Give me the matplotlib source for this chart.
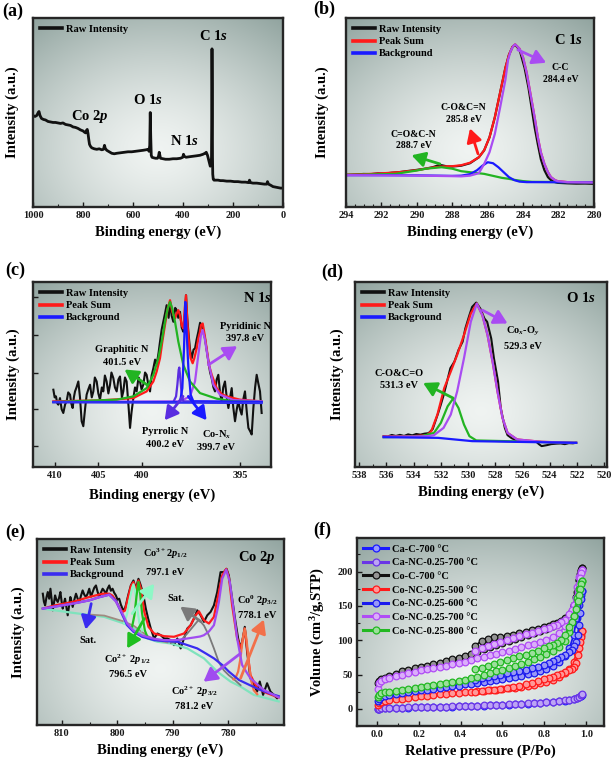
import numpy as np
import matplotlib
matplotlib.use('Agg')
import matplotlib.pyplot as plt
from matplotlib.ticker import MultipleLocator
from matplotlib.lines import Line2D

plt.rcParams.update({
    'font.family': ['Liberation Serif', 'DejaVu Serif'],
    'font.weight': 'bold',
    'axes.labelweight': 'bold',
    'mathtext.fontset': 'custom',
    'mathtext.rm': 'Liberation Serif:bold',
    'mathtext.it': 'Liberation Serif:italic:bold',
    'mathtext.bf': 'Liberation Serif:bold',
})

# ---------------- DATA ----------------
# (a) survey spectrum: binding energy (eV), intensity (a.u.)
survey = np.array([
    [1000, 92], [992, 91], [985, 92], [979, 95], [976, 96], [972, 92], [966, 89], [958, 88], [950, 87.5],
    [940, 86], [930, 85.5], [920, 85], [910, 85], [900, 84.5], [890, 84], [880, 84.5], [870, 83], [860, 82.5],
    [850, 82], [840, 80.5], [830, 80], [820, 79], [810, 77.5], [800, 76.5], [793, 75], [789, 74.5], [786, 77],
    [783, 78], [780, 74], [777, 68], [774, 63], [770, 61], [765, 59.5], [755, 58.5], [745, 58], [735, 58.5],
    [725, 57.5], [718, 58], [714, 62], [711, 59], [705, 57], [695, 55.5], [685, 54], [675, 53.5], [665, 54],
    [650, 54.5], [635, 55], [620, 55.5], [605, 55.5], [590, 56], [575, 56.5], [560, 57], [548, 57.5], [540, 58],
    [536, 56], [533, 62], [531, 95], [529, 70], [527, 52], [524, 50], [518, 49.5], [510, 49], [502, 49],
    [498, 51], [495, 55], [490, 49], [480, 48.5], [470, 48], [455, 48], [440, 48.5], [425, 48.5], [410, 49],
    [401, 50], [398, 53], [395, 51], [388, 50], [375, 50.5], [360, 51], [345, 51.5], [332, 52], [320, 53],
    [312, 54], [307, 55], [302, 52], [298, 48], [294, 44], [291, 41], [288, 42], [286, 50], [285, 90],
    [284, 159], [283, 120], [282, 50], [281, 33], [279, 28], [276, 27], [270, 27], [260, 27], [250, 26.5],
    [240, 26.5], [225, 26], [210, 26], [195, 25.5], [180, 25.5], [165, 25], [150, 25], [138, 24.5], [134, 27],
    [130, 24.5], [120, 24], [105, 24], [90, 23.5], [75, 23], [65, 23], [62, 25.5], [58, 23], [50, 22],
    [40, 20.5], [30, 20], [20, 19.5], [10, 19], [0, 19]])

# (b) C 1s
b_raw = np.array([
    [294, 32.3], [293.5, 32.6], [293, 33.2], [292.6, 33.0], [292.2, 33.8], [291.8, 33.6], [291.4, 34.5],
    [291, 35], [290.5, 36.2], [290, 37.3], [289.5, 38.6], [289.1, 40], [288.8, 41.8], [288.6, 42],
    [288.3, 40.8], [288, 40.7], [287.5, 41.5], [287, 44], [286.5, 50], [286.2, 57], [285.9, 70], [285.6, 90],
    [285.3, 115], [285.0, 140], [284.8, 153], [284.6, 161], [284.45, 163], [284.2, 158], [283.92, 140],
    [283.7, 120], [283.55, 103], [283.35, 80], [283.17, 63], [283.0, 48], [282.8, 37], [282.6, 30],
    [282.43, 27], [282.2, 25], [282.05, 24.3], [281.5, 23.8], [281, 23.5], [280.5, 23.6], [280, 23.3]])
b_sum = np.array([
    [294, 32.3], [293, 33], [292, 33.8], [291, 35], [290, 37], [289.5, 38.5], [289, 40], [288.5, 40.8],
    [288, 41], [287.5, 42], [287, 44.5], [286.5, 50], [286.2, 57], [285.9, 70], [285.6, 90], [285.3, 115],
    [285.0, 140], [284.8, 153], [284.6, 161], [284.45, 163.5], [284.2, 159], [284.0, 150], [283.8, 135],
    [283.55, 110], [283.35, 90], [283.17, 70], [283.0, 55], [282.8, 43.3], [282.6, 35], [282.43, 30],
    [282.2, 27], [282.05, 26], [281.5, 25], [280, 24.7]])
b_cc = np.array([
    [294, 32], [291, 31.7], [289, 31.3], [288, 31], [287.5, 30.8], [287, 31.5], [286.5, 34], [286.2, 43.3],
    [285.9, 55], [285.6, 73.3], [285.3, 100], [285.0, 128], [284.85, 148], [284.7, 157], [284.55, 162],
    [284.45, 163.5], [284.2, 159], [284.0, 150], [283.8, 135], [283.55, 110], [283.35, 90], [283.17, 70],
    [283.0, 55], [282.8, 43.3], [282.6, 35], [282.43, 30], [282.2, 27], [282.05, 26], [281.5, 25], [280, 24.7]])
b_co = np.array([
    [294, 32], [292, 32], [290, 31.8], [288, 31.3], [287.5, 31.5], [287, 33], [286.6, 37], [286.3, 41.5],
    [286.0, 45], [285.7, 44], [285.4, 40], [285.1, 35], [284.8, 30], [284.5, 27], [284.2, 25.5], [283.8, 25],
    [280, 24.8]])
b_cn = np.array([
    [294, 32.2], [291.2, 33.3], [290, 36.7], [289.5, 38.5], [288.6, 40], [288.0, 38.5], [287.5, 36],
    [286.2, 33.3], [285.2, 29.3], [284.8, 28.3], [284.5, 27.3], [284.0, 26], [283.5, 25.3], [280, 24.8]])

# (c) N 1s
c_raw = np.array([
    [410.15, 77.7], [410.0, 70], [409.85, 71], [409.7, 64], [409.58, 62.7], [409.39, 69.3], [409.2, 58],
    [409.01, 54.3], [408.8, 63], [408.63, 66], [408.45, 75], [408.24, 72.7], [408.1, 64], [407.94, 59.3],
    [407.8, 70], [407.67, 76], [407.5, 80], [407.29, 86], [407.1, 70], [406.91, 46], [406.72, 41],
    [406.5, 60], [406.34, 72.7], [406.15, 78], [405.95, 82.7], [405.75, 70], [405.57, 76], [405.4, 90],
    [405.19, 86], [405.0, 74], [404.81, 67.7], [404.6, 80], [404.43, 76], [404.25, 92], [404.05, 86],
    [403.85, 74], [403.66, 82.7], [403.5, 95], [403.28, 89.3], [403.1, 80], [402.90, 76], [402.7, 88],
    [402.52, 91], [402.3, 70], [402.14, 76], [401.95, 90], [401.76, 86], [401.55, 62], [401.37, 39.3],
    [401.2, 55], [400.99, 69.3], [400.8, 80], [400.61, 76], [400.4, 90], [400.23, 86], [400.05, 78],
    [399.85, 82.7], [399.65, 95], [399.47, 92.7], [399.3, 84], [399.08, 76], [398.9, 92], [398.70, 99.3],
    [398.5, 108], [398.32, 102.7], [398.1, 115], [397.94, 126], [397.75, 138], [397.56, 146], [397.35, 155],
    [397.18, 162.7], [396.95, 150], [396.79, 166], [396.6, 152], [396.41, 146], [396.2, 160], [396.03, 157.7],
    [395.85, 150], [395.65, 156], [395.45, 140], [395.27, 136], [395.1, 150], [394.96, 172.7], [394.82, 150],
    [394.69, 136], [394.5, 118], [394.31, 109.3], [394.1, 118], [393.93, 119.3], [393.75, 128], [393.55, 136],
    [393.35, 145], [393.17, 142.7], [392.98, 136], [392.79, 129.3], [392.6, 118], [392.40, 106],
    [392.2, 95], [392.02, 89.3], [391.82, 80], [391.64, 76], [391.45, 88], [391.26, 92.7], [391.07, 75],
    [390.88, 66], [390.7, 80], [390.50, 86], [390.3, 70], [390.11, 59.3], [389.9, 70], [389.73, 79.3],
    [389.55, 60], [389.35, 46], [389.15, 58], [388.97, 66], [388.78, 58], [388.59, 52.7], [388.4, 68],
    [388.21, 76], [388.0, 55], [387.82, 39.3], [387.62, 36], [387.44, 32.7], [387.25, 59.3], [387.05, 80],
    [386.87, 92.7], [386.68, 84], [386.49, 76], [386.30, 54.3]])
c_sum = np.array([
    [410.15, 66], [404.81, 67], [402.90, 68], [400.99, 69.3], [400.23, 72.7], [399.47, 76], [398.70, 86],
    [398.32, 96], [397.94, 109.3], [397.67, 126], [397.37, 142.7], [397.10, 157.7], [396.79, 167.7],
    [396.53, 156], [396.22, 149.3], [396.03, 154.3], [395.84, 157.7], [395.65, 152.7], [395.46, 142.7],
    [395.27, 139.3], [395.11, 159.3], [394.96, 172.7], [394.81, 146], [394.58, 119.3], [394.43, 109.3],
    [394.20, 104.3], [394.01, 109.3], [393.74, 119.3], [393.55, 129.3], [393.36, 136], [393.25, 142.7],
    [393.05, 144.3], [392.82, 132.7], [392.60, 119.3], [392.33, 102.7], [392.02, 92.7], [391.45, 79.3],
    [390.88, 73.3], [390.31, 71], [388.78, 67.7], [386.30, 66]])
c_graphitic = np.array([
    [410.15, 65.3], [402.90, 67.7], [400.99, 71], [399.47, 79.3], [398.70, 92.7], [398.13, 109.3],
    [397.75, 126], [397.37, 146], [397.06, 159.3], [396.79, 166], [396.53, 159.3], [396.22, 146],
    [395.84, 126], [395.27, 102.7], [394.50, 86], [393.36, 74.3], [391.45, 68.7], [389.54, 66], [386.30, 65.3]])
c_pyrrolic = np.array([
    [410.15, 65.3], [396.41, 65.3], [396.10, 71], [395.95, 82.7], [395.80, 97.7], [395.73, 100],
    [395.61, 89.3], [395.46, 72.7], [395.27, 66], [386.30, 65.3]])
c_conx = np.array([
    [410.15, 65.3], [395.65, 65.3], [395.38, 79.3], [395.19, 119.3], [395.04, 166], [394.89, 136],
    [394.69, 99.3], [394.43, 72.7], [394.12, 66], [386.30, 65.3]])
c_pyridinic = np.array([
    [410.15, 65.3], [395.65, 66], [394.50, 71], [393.93, 86], [393.55, 112.7], [393.25, 132.7],
    [393.05, 137.7], [392.79, 127.7], [392.40, 106], [391.83, 82.7], [391.07, 72.7], [389.54, 67.3],
    [386.30, 66]])
c_bg = np.array([[410.15, 65.3], [386.30, 64.3]])
c_tick_pos = [410, 405, 400, 388.8]
c_tick_lab = ['410', '405', '400', '395']

# (d) O 1s
d_raw = np.array([
    [536.2, 31], [535.9, 30.7], [535.6, 32.2], [535.3, 31.2], [535.0, 32.3], [534.7, 31.2], [534.4, 32.8],
    [534.1, 31.8], [533.8, 33.2], [533.5, 32.5], [533.2, 33.5], [532.9, 34], [532.6, 38], [532.4, 46],
    [532.2, 54], [532.0, 62.7], [531.8, 72], [531.6, 82.7], [531.3, 99.3], [531.0, 106], [530.7, 117.7],
    [530.4, 126], [530.2, 139.3], [529.9, 152.7], [529.7, 161], [529.4, 165.3], [529.1, 159.3],
    [528.8, 149.3], [528.6, 146], [528.3, 129.3], [528.1, 109.3], [527.8, 86], [527.6, 59.3], [527.3, 39.3],
    [527.1, 32], [526.8, 29], [526.6, 27.7], [526.1, 26.8], [525.6, 26], [525.0, 25.5], [524.8, 23],
    [524.6, 21], [524.4, 21.5], [524.2, 22], [523.9, 23], [523.5, 23.5], [523.2, 23.7], [522.9, 23],
    [522.6, 24], [522.3, 23.8], [522.1, 24.3]])
d_sum = np.array([
    [536.2, 30.5], [534, 31], [533, 32], [532.7, 36], [532.25, 52.7], [531.75, 79.3], [531.27, 96],
    [530.8, 112.7], [530.3, 132.7], [529.8, 154.3], [529.36, 164.3], [528.95, 152.7], [528.57, 132.7],
    [528.2, 106], [527.84, 76], [527.47, 49.3], [527.1, 34.3], [526.4, 27.7], [524.6, 25.3], [522.06, 24.3]])
d_coxoy = np.array([
    [536.2, 30.5], [534, 30.6], [533, 31], [532.5, 32], [531.8, 39.3], [531.27, 52.7], [530.8, 76],
    [530.3, 109.3], [529.8, 146], [529.36, 164.3], [528.95, 152.7], [528.57, 132.7], [528.2, 106],
    [527.84, 76], [527.47, 49.3], [527.1, 34.3], [526.4, 27.7], [524.6, 25.3], [522.06, 24.3]])
d_co = np.array([
    [536.2, 30], [533.5, 30.7], [532.5, 34.3], [532.0, 44.3], [531.5, 61], [531.1, 68.7], [530.7, 59.3],
    [530.3, 42.7], [529.9, 31], [529.4, 26.7], [522.06, 24.3]])
d_bg = np.array([[536.2, 30], [532.2, 29.3], [529.7, 26], [522.06, 24.3]])

# (e) Co 2p
e_raw = np.array([
    [813.45, 132], [813.25, 124], [813.03, 120.3], [812.8, 128], [812.55, 133.7], [812.3, 127], [812.07, 137],
    [811.85, 126], [811.65, 115.3], [811.45, 122], [811.23, 130.3], [811.0, 126], [810.75, 123.7],
    [810.5, 128], [810.27, 133.7], [810.05, 124], [809.85, 117], [809.65, 122], [809.43, 127], [809.2, 119],
    [808.95, 110.3], [808.7, 120], [808.47, 128.7], [808.25, 124], [808.05, 118.7], [807.75, 126],
    [807.45, 132], [807.15, 127], [806.85, 123.7], [806.55, 130], [806.25, 135.3], [805.95, 131],
    [805.65, 128.7], [805.35, 132], [805.05, 137], [804.75, 129], [804.44, 133.7], [804.15, 138],
    [803.84, 140.3], [803.55, 134], [803.24, 128.7], [802.95, 133], [802.64, 137], [802.35, 135],
    [802.04, 132], [801.75, 137], [801.44, 140.3], [801.15, 135], [800.84, 137], [800.55, 133],
    [800.24, 130.3], [799.94, 126], [799.64, 127], [799.34, 121], [799.04, 117], [798.74, 115], [798.44, 120.3],
    [798.02, 130.3], [797.54, 140.3], [797.06, 145.3], [796.64, 137], [796.16, 147], [795.74, 140.3],
    [795.26, 130.3], [794.83, 117], [794.41, 107], [793.93, 97], [793.33, 87], [792.73, 92], [792.13, 90.3],
    [791.53, 87], [790.93, 87], [790.33, 85.3], [789.73, 80.3], [789.13, 87], [788.53, 77], [787.93, 87],
    [787.33, 97], [786.73, 100.3], [786.13, 107], [785.53, 115.3], [784.92, 110.3], [784.32, 103.7],
    [783.72, 110.3], [783.12, 113.7], [782.52, 120.3], [781.92, 133.7], [781.32, 153.7], [780.72, 153.7],
    [780.24, 157], [779.82, 150.3], [779.22, 127], [778.62, 103.7], [778.14, 87], [777.72, 77], [777.30, 87],
    [776.94, 98.7], [776.52, 73.7], [775.92, 47], [775.32, 40.3], [774.71, 33.7], [774.23, 43.7],
    [773.63, 30.3], [772.91, 42], [772.31, 33.7], [771.71, 30.3], [771.11, 27]])
e_sum = np.array([
    [813.45, 117], [811.23, 120.3], [808.05, 123.7], [805.05, 128.7], [802.64, 132], [801.44, 132],
    [800.84, 130], [800.24, 125], [799.64, 118], [799.04, 113.7], [798.6, 115], [798.02, 128.7],
    [797.5, 140], [797.06, 143.7], [796.64, 135.3], [796.16, 145.3], [795.7, 137], [795.1, 113.7],
    [794.35, 98.7], [793.33, 92], [791.53, 89.3], [789.73, 88.7], [787.93, 92], [786.73, 100.3],
    [785.83, 110.3], [785.23, 114.3], [784.32, 105.3], [783.42, 102], [782.52, 108.7], [781.62, 133.7],
    [781.02, 150.3], [780.3, 157], [779.82, 148.7], [779.22, 120.3], [778.32, 87], [777.6, 77],
    [776.94, 97], [776.52, 77], [775.92, 50.3], [774.71, 37], [772.91, 32], [770.81, 27.7]])
e_bg = np.array([
    [813.45, 117], [810.75, 119.5], [808.05, 122], [805.05, 125.3], [803.24, 128.5], [801.44, 131],
    [800.24, 125], [799.04, 110.3], [798.2, 100.3], [797.06, 93.7], [795.5, 88.7], [793.33, 85.3],
    [790.93, 84.3], [789.13, 83.7], [787.3, 80.3], [785.53, 77], [784.0, 72], [782.52, 67], [781.0, 60.3],
    [779.82, 53.7], [778.0, 45.3], [776.0, 40], [774.0, 35], [772.0, 31], [770.81, 29]])
e_co2p32 = np.array([
    [813.45, 117], [810.75, 119.5], [808.05, 122], [805.05, 125.3], [803.24, 128.5], [801.44, 131],
    [800.24, 124], [799.04, 112], [798.2, 102], [797.06, 95], [795.5, 90], [793.33, 86.7], [791.5, 85.3],
    [789.73, 85.3], [788.5, 86], [787.3, 87], [786.1, 88], [785.0, 89], [784.32, 90.3], [783.42, 94],
    [782.52, 100.3], [781.92, 115], [781.62, 123.7], [781.02, 147], [780.3, 156.3], [779.64, 143.7],
    [778.92, 113.7], [778.32, 87], [777.42, 60.3], [776.5, 52], [775.92, 47], [773.51, 35.3], [770.81, 27.7]])
e_shirley = np.array([
    [813.45, 117], [808.35, 113], [802.34, 108.7], [798.74, 102], [796.94, 97], [794.53, 87],
    [792.73, 83.7], [790.33, 82], [787.33, 77], [784.32, 67], [781.92, 53.7], [779.52, 43.7],
    [777.72, 38.7], [775.32, 30.3], [770.81, 23.7]])
e_sat2 = np.array([[805.0, 111], [802.34, 110], [798.74, 104], [796.94, 99.5], [794.53, 89.5],
                   [792.73, 85], [790.9, 83]])
e_sat1 = np.array([
    [790.33, 82.5], [788.5, 85], [787.33, 92], [786.13, 100], [785.23, 106], [784.32, 100], [783.42, 90],
    [782.52, 77], [781.62, 63], [780.72, 55], [779.82, 50], [778.9, 46], [777.7, 40]])
e_co3 = np.array([[798.74, 102], [798.2, 112], [797.8, 125], [797.3, 138], [797.06, 141.5], [796.8, 136],
                  [796.4, 118], [796.0, 103], [795.5, 95]])
e_co2p12 = np.array([[797.3, 99], [796.9, 110], [796.5, 130], [796.16, 143.7], [795.85, 132],
                     [795.5, 112], [795.0, 95], [794.5, 88]])
e_co0 = np.array([[779.0, 46], [778.6, 47.5], [778.14, 53.7], [777.72, 67], [777.3, 87], [776.94, 97],
                  [776.6, 85], [776.2, 62], [775.8, 45], [775.32, 35], [774.7, 31]])
e_ticks = [810, 800, 790, 780]

# (f) N2 isotherms: relative pressure and volume (cm3/g, STP)
p_ads = [0.003, 0.01, 0.02, 0.04, 0.06, 0.09, 0.12, 0.15, 0.18, 0.21, 0.24, 0.27, 0.30, 0.33, 0.36, 0.39,
         0.42, 0.45, 0.48, 0.51, 0.54, 0.57, 0.60, 0.63, 0.66, 0.69, 0.72, 0.75, 0.78, 0.81, 0.84, 0.87,
         0.90, 0.92, 0.94, 0.955, 0.965, 0.975, 0.98]
p_des = [0.98, 0.975, 0.97, 0.965, 0.96, 0.95, 0.94, 0.93, 0.92, 0.90, 0.88, 0.86, 0.84, 0.82, 0.80,
         0.77, 0.74, 0.71, 0.68, 0.65, 0.62, 0.59, 0.56, 0.53, 0.50, 0.47]
v_cac700 = [0, 0.3, 0.7, 1.0, 1.2, 1.4, 1.6, 1.8, 2.0, 2.2, 2.4, 2.6, 2.8, 3.0, 3.3, 3.6, 3.9, 4.2, 4.5,
            4.8, 5.1, 5.4, 5.7, 6.1, 6.5, 7.0, 7.5, 8.0, 8.6, 9.3, 10.0, 10.9, 11.9, 12.9, 14.2, 15.7,
            17.2, 19.2, 20.7]
v_canc700 = [0, 0.5, 1, 1.3, 1.5, 1.7, 1.9, 2.1, 2.3, 2.5, 2.7, 2.9, 3.1, 3.3, 3.6, 3.9, 4.2, 4.5, 4.8,
             5.1, 5.4, 5.7, 6, 6.4, 6.8, 7.3, 7.8, 8.3, 8.9, 9.6, 10.3, 11.2, 12.2, 13.2, 14.5, 16, 17.5,
             19.5, 21]
v_coc700_ads = [38, 41, 43, 45.5, 48.5, 51.5, 54.5, 57, 59, 61, 62.8, 65, 67.5, 69.8, 72, 74.5, 77, 80, 83,
                86.5, 89.5, 92.5, 95.5, 98.5, 101.5, 104.5, 107.5, 110.5, 113.5, 117, 120.5, 124.5, 130,
                137, 150, 170, 188, 201, 205]
v_coc700_des = [205, 202, 197, 188, 178, 163, 152, 143, 137.5, 132, 128, 125, 123, 121, 119, 117, 114.5,
                112, 110, 108, 106, 105, 104, 102, 99, 92]
v_500_ads = [5, 8, 10, 11.5, 12.5, 13.8, 15, 16.2, 17.3, 18.2, 19, 20, 21, 21.7, 22.4, 23.2, 24, 24.7, 25.5,
             26.3, 27.2, 28.1, 29.1, 30, 30.8, 31.7, 33, 35, 37, 39.5, 42.5, 46, 52, 58, 69, 82, 95, 107, 113]
v_500_des = [113, 105, 97, 88, 78, 67, 61, 58, 56, 53, 51, 49, 47, 45, 43, 40.5, 38, 35.5, 33.5, 32, 30.7,
             29.3, 28, 27, 26, 25]
v_600_ads = [12, 15, 17.5, 19, 20, 21.3, 22.8, 24.3, 25.8, 27, 28, 29.3, 30.6, 31.7, 32.8, 34, 35.5, 36.5,
             37.8, 39.2, 40.5, 41.9, 43.3, 44.9, 46.5, 48.3, 50.3, 52.5, 55, 58.5, 62.5, 68, 77, 88, 108,
             132, 152, 166, 172]
v_600_des = [172, 160, 140, 122, 108, 98, 91, 86, 82.5, 79, 76, 72, 69.5, 67, 64, 61, 59, 57, 55.5, 53.5,
             51.7, 50, 48, 46.5, 44.5, 42.5]
v_700_ads = [29, 37, 41, 43.5, 45, 47.5, 50, 52.2, 54.2, 56, 57.5, 59.3, 61.3, 63, 64.8, 66.7, 69, 71.7,
             74, 76.2, 78.5, 80.5, 82.8, 85, 87.5, 90, 92.5, 95, 98, 101, 104.5, 110, 121, 134, 152, 178,
             192, 200, 203]
v_700_des = [203, 198, 190, 182, 173, 162, 152, 144, 138, 130, 126, 122.5, 120.5, 118.5, 116.5, 114, 111,
             108.5, 106, 103, 100.5, 97.5, 95, 92, 88.5, 84.5]
v_800_ads = [17, 20, 22.5, 24, 25, 26.5, 27.8, 29, 30.4, 31.5, 32.8, 34.3, 35.8, 37.3, 39, 41, 42.7, 44.3,
             46.3, 49, 51.7, 54.5, 57, 59.8, 62.5, 65, 68.5, 72, 76, 80.5, 85, 90.5, 99, 112, 135, 161,
             174, 184, 187]
v_800_des = [187, 182, 175, 166, 157, 146, 136, 127, 119, 108, 100.5, 96, 93.5, 91, 88.5, 85, 82, 79,
             76.5, 74, 71, 68.5, 65.5, 63, 60, 57.5]
iso_labels = ['Ca-C-700 °C', 'Ca-NC-0.25-700 °C', 'Co-C-700 °C', 'Co-NC-0.25-500 °C',
              'Co-NC-0.25-600 °C', 'Co-NC-0.25-700 °C', 'Co-NC-0.25-800 °C']

# ---------------- STYLE / HELPERS ----------------
W, H = 614, 764
fig = plt.figure(figsize=(W / 100, H / 100), dpi=100)
fig.patch.set_facecolor('white')


def make_ax(l, t, r, b):
    return fig.add_axes([l / W, 1 - b / H, (r - l) / W, (b - t) / H])


def background(ax):
    ny, nx = 120, 120
    yy, xx = np.mgrid[0:1:ny * 1j, 0:1:nx * 1j]
    d = np.sqrt(((xx - 0.5) / 0.85) ** 2 + ((yy - 0.3) / 0.9) ** 2)
    t = np.clip(d / 1.1, 0, 1) ** 1.4
    light = np.array([0.94, 0.955, 0.948])
    dark = np.array([0.50, 0.585, 0.565])
    img = light[None, None, :] * (1 - t[..., None]) + dark[None, None, :] * t[..., None]
    ax.imshow(img, extent=[0, 1, 0, 1], transform=ax.transAxes, origin='lower',
              aspect='auto', zorder=0, interpolation='bilinear')


def style(ax):
    for s in ax.spines.values():
        s.set_linewidth(1.7)
        s.set_color('#262626')
        s.set_zorder(10)
    ax.tick_params(which='major', direction='in', length=3.5, width=1.0, labelsize=7.5, pad=3,
                   colors='#1a1a1a')
    ax.tick_params(which='minor', direction='in', length=2.3, width=0.8, colors='#1a1a1a')


def curve(ax, arr, color, lw=1.6, z=3, **kw):
    ax.plot(arr[:, 0], arr[:, 1], color=color, lw=lw, zorder=z, solid_joinstyle='round', **kw)


def arrow(ax, tail, head, color):
    ax.annotate('', xy=head, xytext=tail,
                arrowprops=dict(arrowstyle='-|>,head_width=0.45,head_length=0.8', lw=2.0,
                                color=color, shrinkA=0, shrinkB=0, mutation_scale=10),
                zorder=8)


def label2(ax, x, y1, y2, t1, t2, fs=7.5):
    ax.text(x, y1, t1, ha='center', va='center', fontsize=fs, zorder=9)
    ax.text(x, y2, t2, ha='center', va='center', fontsize=fs, zorder=9)


def xps_legend(ax, colors, labels):
    handles = [Line2D([], [], color=c, lw=2.6) for c in colors]
    ax.legend(handles, labels, loc='upper left', frameon=False, fontsize=7.5, handlelength=2.1,
              handletextpad=0.4, labelspacing=0.28, borderaxespad=0.35, borderpad=0.3)


BLACK, RED, BLUE, GREEN, PURPLE = '#111111', '#ff1a1a', '#1a1aff', '#22b422', '#a94cf2'

# ---------------- (a) ----------------
ax = make_ax(33, 18, 283, 207)
background(ax)
curve(ax, survey, BLACK, lw=2.0)
ax.set_xlim(1000, 0)
ax.set_ylim(0, 190)
ax.xaxis.set_major_locator(MultipleLocator(200))
ax.xaxis.set_minor_locator(MultipleLocator(100))
ax.set_yticks([])
style(ax)
ax.set_xlabel('Binding energy (eV)', fontsize=10.5, labelpad=4)
ax.set_ylabel('Intensity (a.u.)', fontsize=10.5)
ax.yaxis.set_label_coords(-0.056, 0.5)
xps_legend(ax, [BLACK], ['Raw Intensity'])
ax.text(280, 171.5, 'C 1$s$', ha='center', va='center', fontsize=10.5)
ax.text(540, 108, 'O 1$s$', ha='center', va='center', fontsize=10.5)
ax.text(773, 91, 'Co 2$p$', ha='center', va='center', fontsize=10.5)
ax.text(393, 66.5, 'N 1$s$', ha='center', va='center', fontsize=10.5)

# ---------------- (b) ----------------
ax = make_ax(346, 18, 594, 207)
background(ax)
curve(ax, b_raw, BLACK)
curve(ax, b_sum, RED)
curve(ax, b_cn, GREEN)
curve(ax, b_co, BLUE)
curve(ax, b_cc, PURPLE)
ax.set_xlim(294, 280)
ax.set_ylim(0, 190)
ax.xaxis.set_major_locator(MultipleLocator(2))
ax.xaxis.set_minor_locator(MultipleLocator(0.5))
ax.set_yticks([])
style(ax)
ax.set_xlabel('Binding energy (eV)', fontsize=10.5, labelpad=4)
ax.set_ylabel('Intensity (a.u.)', fontsize=10.5)
ax.yaxis.set_label_coords(-0.069, 0.5)
xps_legend(ax, [BLACK, RED, BLUE], ['Raw Intensity', 'Peak Sum', 'Background'])
ax.text(281.45, 168.3, 'C 1$s$', ha='center', va='center', fontsize=10.5)
arrow(ax, (284.3, 158), (282.7, 145), PURPLE)
arrow(ax, (286.55, 53.5), (287.0, 79), RED)
arrow(ax, (288.7, 43.3), (290.3, 52), GREEN)
label2(ax, 281.9, 140.7, 128.3, 'C-C', '284.4 eV', fs=7)
label2(ax, 287.37, 100, 88.3, 'C-O&C=N', '285.8 eV', fs=7)
label2(ax, 290.17, 73.3, 61.7, 'C=O&C-N', '288.7 eV', fs=7)

# ---------------- (c) ----------------
ax = make_ax(33, 282, 271, 467)
background(ax)
curve(ax, c_raw, BLACK, lw=1.5)
curve(ax, c_sum, RED)
curve(ax, c_pyridinic, PURPLE)
curve(ax, c_graphitic, GREEN)
curve(ax, c_pyrrolic, '#5a2de0')
curve(ax, c_conx, BLUE)
curve(ax, c_bg, '#3030f0')
ax.set_xlim(412.48, 385.23)
ax.set_ylim(0, 186)
ax.set_xticks(c_tick_pos)
ax.set_xticklabels(c_tick_lab)
ax.set_yticks([21, 58, 95, 133, 171])
ax.set_yticklabels([])
style(ax)
ax.set_xlabel('Binding energy (eV)', fontsize=10.5, labelpad=6)
ax.set_ylabel('Intensity (a.u.)', fontsize=10.5)
ax.yaxis.set_label_coords(-0.055, 0.5)
xps_legend(ax, [BLACK, RED, BLUE], ['Raw Intensity', 'Peak Sum', 'Background'])
ax.text(386.8, 170, 'N 1$s$', ha='center', va='center', fontsize=10.5)
arrow(ax, (399.4, 82.5), (402.0, 98), GREEN)
arrow(ax, (392.4, 102.7), (389.1, 121.5), PURPLE)
arrow(ax, (395.3, 71), (397.4, 47), '#5a2de0')
arrow(ax, (394.7, 71), (392.6, 47), BLUE)
label2(ax, 402.33, 117.7, 105.3, 'Graphitic N', '401.5 eV')
label2(ax, 388.2, 141, 128.7, 'Pyridinic N', '397.8 eV')
label2(ax, 397.37, 35.3, 22.7, 'Pyrrolic N', '400.2 eV')
label2(ax, 391.5, 32.7, 19.3, 'Co-N$_x$', '399.7 eV')

# ---------------- (d) ----------------
ax = make_ax(355, 282, 607, 467)
background(ax)
curve(ax, d_raw, BLACK, lw=1.5)
curve(ax, d_sum, RED)
curve(ax, d_co, GREEN)
curve(ax, d_coxoy, PURPLE)
curve(ax, d_bg, BLUE)
ax.set_xlim(538.3, 519.8)
ax.set_ylim(0, 186)
ax.xaxis.set_major_locator(MultipleLocator(2))
ax.xaxis.set_minor_locator(MultipleLocator(1))
ax.set_yticks([])
style(ax)
ax.set_xlabel('Binding energy (eV)', fontsize=10.5, labelpad=4)
ax.set_ylabel('Intensity (a.u.)', fontsize=10.5)
ax.yaxis.set_label_coords(-0.044, 0.5)
xps_legend(ax, [BLACK, RED, BLUE], ['Raw Intensity', 'Peak Sum', 'Background'])
ax.text(521.7, 170, 'O 1$s$', ha='center', va='center', fontsize=10.5)
arrow(ax, (528.95, 157.7), (527.1, 144.3), PURPLE)
arrow(ax, (531.1, 69.3), (533.3, 84.5), GREEN)
label2(ax, 526.0, 136, 121, 'Co$_x$-O$_y$', '529.3 eV')
label2(ax, 535.08, 94.3, 82, 'C-O&C=O', '531.3 eV')

# ---------------- (e) ----------------
ax = make_ax(37, 539, 284, 725)
background(ax)
curve(ax, e_raw, BLACK, lw=1.5)
curve(ax, e_sum, RED)
curve(ax, e_shirley, '#7fe3bd')
curve(ax, e_sat2, '#a08a80', lw=1.3)
curve(ax, e_sat1, '#7a7a7a', lw=1.3)
curve(ax, e_co3, '#8ef7c6')
curve(ax, e_co2p12, '#1fbf1f')
curve(ax, e_co0, '#f2704a')
curve(ax, e_bg, '#3a2cf0')
curve(ax, e_co2p32, '#a04cf0')
ax.set_xlim(814.5, 769.85)
ax.set_ylim(0, 187)
ax.set_xticks(e_ticks)
ax.xaxis.set_minor_locator(MultipleLocator(5))
ax.set_yticks([])
style(ax)
ax.set_xlabel('Binding energy (eV)', fontsize=10.5, labelpad=4)
ax.set_ylabel('Intensity (a.u.)', fontsize=10.5)
ax.yaxis.set_label_coords(-0.049, 0.5)
xps_legend(ax, [BLACK, RED, '#3a2cf0'], ['Raw Intensity', 'Peak Sum', 'Background'])
ax.text(774.7, 168.7, 'Co 2$p$', ha='center', va='center', fontsize=10.5)
arrow(ax, (804.7, 122), (805.7, 96), '#3a2cf0')
arrow(ax, (797.3, 112), (793.3, 142), '#8ef7c6')
arrow(ax, (795.1, 107), (798.2, 77), '#1fbf1f')
arrow(ax, (784.9, 104), (788.6, 119), '#7a7a7a')
arrow(ax, (777.7, 72), (784.4, 43.5), '#a04cf0')
arrow(ax, (777.7, 47), (773.5, 106), '#f2704a')
ax.text(805.35, 85.3, 'Sat.', ha='center', va='center', fontsize=7.5)
ax.text(789.4, 127, 'Sat.', ha='center', va='center', fontsize=7.5)
label2(ax, 791.3, 172, 153.7, 'Co$^{3+}$2$p_{1/2}$', '797.1 eV')
label2(ax, 798.1, 65.3, 50.3, 'Co$^{2+}$ 2$p_{1/2}$', '796.5 eV')
label2(ax, 786.1, 33.7, 18.7, 'Co$^{2+}$ 2$p_{3/2}$', '781.2 eV')
label2(ax, 774.7, 125.3, 110.3, 'Co$^0$ 2$p_{3/2}$', '778.1 eV')

# ---------------- (f) ----------------
ax = make_ax(357, 538, 604, 726)
background(ax)
iso_colors = ['#1a1aff', '#6a35e6', '#111111', '#ff1a1a', '#1a1aee', '#b04cf5', '#22b822']
ads_list = [v_cac700, v_canc700, v_coc700_ads, v_500_ads, v_600_ads, v_700_ads, v_800_ads]
des_list = [None, None, v_coc700_des, v_500_des, v_600_des, v_700_des, v_800_des]


def tint(c, f=0.55):
    rgb = np.array(matplotlib.colors.to_rgb(c))
    return tuple(rgb + (1 - rgb) * f)


handles = []
for i, (c, ads, des) in enumerate(zip(iso_colors, ads_list, des_list)):
    kw = dict(color=c, lw=1.3, marker='o', ms=4.8, mfc=tint(c), mec=c, mew=0.9, zorder=3 + i * 0.1)
    ax.plot(p_ads, ads, **kw)
    if des is not None:
        ax.plot(p_des, des, **kw)
    handles.append(Line2D([], [], color=c, lw=2.2, marker='o', ms=5, mfc=tint(c), mec=c, mew=0.9))
ax.set_xlim(-0.095, 1.085)
ax.set_ylim(-25, 249)
ax.xaxis.set_minor_locator(MultipleLocator(0.1))
ax.yaxis.set_major_locator(MultipleLocator(50))
ax.yaxis.set_minor_locator(MultipleLocator(25))
ax.set_xticks([0, 0.2, 0.4, 0.6, 0.8, 1.0])
ax.set_xticklabels(['0.0', '0.2', '0.4', '0.6', '0.8', '1.0'])
style(ax)
ax.set_xlabel('Relative pressure (P/Po)', fontsize=10.5, labelpad=4)
ax.set_ylabel('Volume (cm$^3$/g,STP)', fontsize=10.5)
ax.yaxis.set_label_coords(-0.121, 0.5)
ax.legend(handles, iso_labels, loc='upper left', frameon=False, fontsize=7.5, handlelength=2.4,
          handletextpad=0.4, labelspacing=0.42, borderaxespad=0.3, borderpad=0.3, numpoints=1)

# panel letters
for lab, (px, py) in zip(['(a)', '(b)', '(c)', '(d)', '(e)', '(f)'],
                         [(13, 11), (324, 9), (15, 270), (332, 272), (15, 532), (322, 530)]):
    fig.text(px / W, 1 - py / H, lab, ha='center', va='center', fontsize=13)

fig.savefig('out.png', dpi=100)
